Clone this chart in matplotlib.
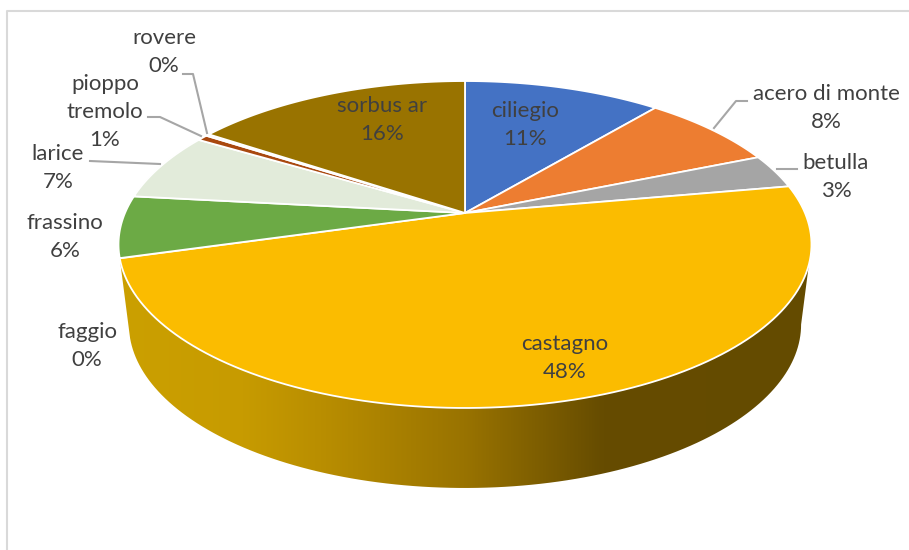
import numpy as np
import matplotlib
matplotlib.use('Agg')
import matplotlib.pyplot as plt
from matplotlib.colors import LinearSegmentedColormap
from matplotlib.patches import Polygon

species = ['ciliegio', 'acero di monte', 'betulla', 'castagno', 'faggio',
           'frassino', 'larice', 'pioppo\ntremolo', 'rovere', 'sorbus ar']
shares = [11.1, 7.7, 3.4, 48.4, 0.02, 6.1, 6.8, 0.6, 0.2, 15.68]
colors = ['#4472C4', '#ED7D31', '#A5A5A5', '#FBBC00', '#5B9BD5',
          '#6CAA45', '#E2EBDA', '#A9480F', '#F2EDE4', '#997300']

# label centres, in pixels of the 909x550 canvas
label_pos = [(525, 125), (826, 108), (836, 177), (565, 358), (87, 346),
             (65, 237), (58, 168), (105, 112), (164, 52), (382, 120)]

# leader lines for the labels sitting outside the pie
leaders = [
    [(183, 74), (193, 74), (207, 133)],
    [(148, 117), (160, 117), (201, 136)],
    [(90, 161), (160, 164)],
    [(747, 101), (736, 101), (714, 128)],
    [(777, 169), (797, 169)],
]

# pie apex and perspective of the tilted disc
APEX_X, APEX_Y = 465, 213
SCALE_X, SCALE_Y, TILT = 340.0, 157.4, 0.1927
DEPTH = 80
BOTTOM_SHRINK = 0.97


def project(theta, x_scale=1.0, drop=0.0):
    """Map clockwise-from-north angles on the unit disc to canvas pixels."""
    u, v = np.sin(theta), np.cos(theta)
    w = 1 + TILT * v
    return APEX_X + x_scale * SCALE_X * u / w, APEX_Y - SCALE_Y * v / w + drop


def arc(start, end, n=120, **kwargs):
    theta = np.linspace(start, end, n)
    x, y = project(theta, **kwargs)
    return np.column_stack([x, y])


fig = plt.figure(figsize=(9.09, 5.5), dpi=100)
ax = fig.add_axes([0, 0, 1, 1])
ax.set_xlim(0, 909)
ax.set_ylim(550, 0)
ax.axis('off')

# chart frame, cut off by the canvas on the right and at the bottom
ax.plot([7, 7, 909], [550, 11, 11], color='#D9D9D9', lw=1.5, zorder=1)

edges = 2 * np.pi * np.concatenate([[0], np.cumsum(shares)]) / np.sum(shares)
big = species.index('castagno')

# side wall of the largest slice, starting from the widest point of the rim
widest = np.arccos(-TILT)
top_rim = arc(widest, edges[big + 1])
low_rim = arc(widest, edges[big + 1], x_scale=BOTTOM_SHRINK, drop=DEPTH)
wall = Polygon(np.vstack([top_rim, low_rim[::-1]]), closed=True,
               facecolor='none', edgecolor='none')
ax.add_patch(wall)
shade = LinearSegmentedColormap.from_list('shade', [
    (0.0, '#CBA000'), (0.18, '#C79B00'), (0.3, '#B88D00'), (0.5, '#997300'),
    (0.7, '#664C00'), (1.0, '#644B00')])
grad = ax.imshow(np.linspace(0, 1, 256)[None, :], cmap=shade, aspect='auto',
                 extent=(118, 811, 550, 0), zorder=2)
grad.set_clip_path(wall)
ax.set_xlim(0, 909)
ax.set_ylim(550, 0)

# top face of the pie
for i, color in enumerate(colors):
    if shares[i] < 0.05:
        continue
    outline = np.vstack([[[APEX_X, APEX_Y]], arc(edges[i], edges[i + 1])])
    ax.add_patch(Polygon(outline, closed=True, facecolor=color,
                         edgecolor='#FFFFFF', lw=1.3, joinstyle='round',
                         zorder=3))

for points in leaders:
    xs, ys = zip(*points)
    ax.plot(xs, ys, color='#A6A6A6', lw=1.5, zorder=4)

for name, share, (x, y) in zip(species, shares, label_pos):
    ax.text(x, y, f'{name}\n{share:.0f}%', ha='center', va='center',
            fontsize=16, color='#404040', linespacing=1.52, zorder=5,
            family=['Lato', 'DejaVu Sans'])

fig.savefig('out.png', dpi=100)
